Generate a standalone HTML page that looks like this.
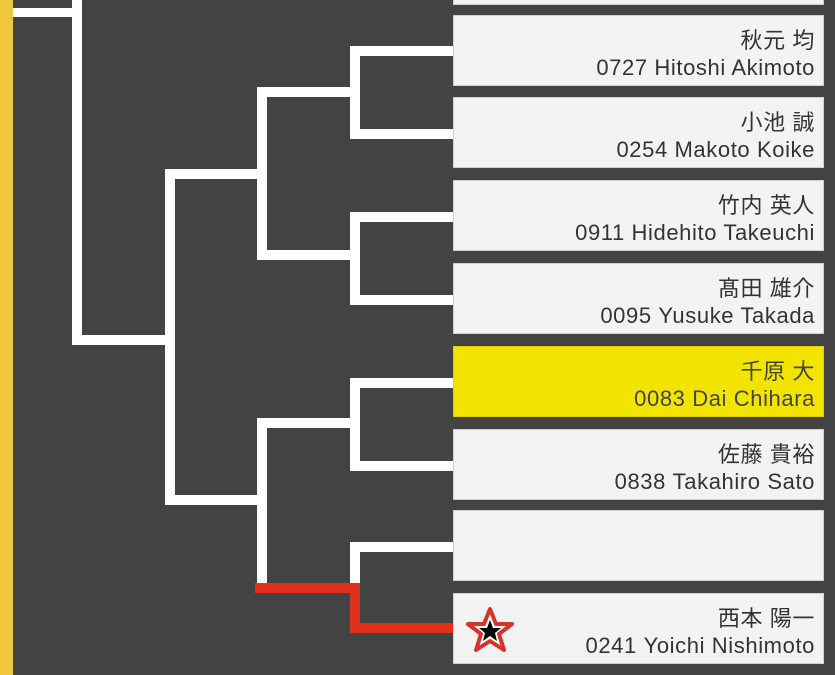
<!DOCTYPE html>
<html><head><meta charset="utf-8"><style>
body{margin:0;width:835px;height:675px;background:#434343;position:relative;overflow:hidden;font-family:"Liberation Sans","Noto Sans CJK JP",sans-serif}
.l{position:absolute;background:#fff}
.r{position:absolute;background:#e0301e}
.b{position:absolute;left:453px;width:371px;height:71px;background:#f3f3f3;border:1px solid #d0d0d0;box-sizing:border-box}
.b .t{position:absolute;right:8px;top:11px;text-align:right;font-size:22px;letter-spacing:0.6px;line-height:27px;color:#333;white-space:nowrap}
.y{background:#f3e400;border-color:#e0d000}
.y .t{color:#444}
</style></head><body>
<div style="position:absolute;left:0;top:0;width:13px;height:675px;background:#f0c840"></div>
<div class="b" style="top:-66px"></div>
<div class="b" style="top:15px"><div class="t">秋元 均<br>0727 Hitoshi Akimoto</div></div>
<div class="b" style="top:97px"><div class="t">小池 誠<br>0254 Makoto Koike</div></div>
<div class="b" style="top:180px"><div class="t">竹内 英人<br>0911 Hidehito Takeuchi</div></div>
<div class="b" style="top:263px"><div class="t">髙田 雄介<br>0095 Yusuke Takada</div></div>
<div class="b y" style="top:346px"><div class="t">千原 大<br>0083 Dai Chihara</div></div>
<div class="b" style="top:429px"><div class="t">佐藤 貴裕<br>0838 Takahiro Sato</div></div>
<div class="b" style="top:510px"></div>
<div class="b" style="top:593px"><div class="t">西本 陽一<br>0241 Yoichi Nishimoto</div>
<svg style="position:absolute;left:10px;top:12px" width="52" height="50" viewBox="0 0 52 50"><polygon points="26,3 32,18 48,18 35,28 40,44 26,35 12,44 17,28 4,18 20,18" fill="#fff" stroke="#d6332a" stroke-width="4" stroke-linejoin="round"/><polygon points="26,14 29,22 37,22 31,27 33,35 26,30 19,35 21,27 15,22 23,22" fill="#000"/></svg></div>
<div class="l" style="left:13px;top:8px;width:69px;height:9px"></div>
<div class="l" style="left:72px;top:0;width:10px;height:345px"></div>
<div class="l" style="left:72px;top:335px;width:103px;height:10px"></div>
<div class="l" style="left:165px;top:169px;width:10px;height:336px"></div>
<div class="l" style="left:165px;top:169px;width:102px;height:10px"></div>
<div class="l" style="left:165px;top:495px;width:102px;height:10px"></div>
<div class="l" style="left:257px;top:87px;width:10px;height:172px"></div>
<div class="l" style="left:257px;top:87px;width:103px;height:10px"></div>
<div class="l" style="left:257px;top:250px;width:103px;height:10px"></div>
<div class="l" style="left:350px;top:46px;width:10px;height:93px"></div>
<div class="l" style="left:350px;top:46px;width:103px;height:10px"></div>
<div class="l" style="left:350px;top:129px;width:103px;height:10px"></div>
<div class="l" style="left:350px;top:212px;width:10px;height:93px"></div>
<div class="l" style="left:350px;top:212px;width:103px;height:10px"></div>
<div class="l" style="left:350px;top:295px;width:103px;height:10px"></div>
<div class="l" style="left:257px;top:418px;width:10px;height:170px"></div>
<div class="l" style="left:257px;top:418px;width:103px;height:10px"></div>
<div class="l" style="left:350px;top:378px;width:10px;height:93px"></div>
<div class="l" style="left:350px;top:378px;width:103px;height:10px"></div>
<div class="l" style="left:350px;top:461px;width:103px;height:10px"></div>
<div class="l" style="left:350px;top:542px;width:10px;height:45px"></div>
<div class="l" style="left:350px;top:542px;width:103px;height:10px"></div>
<div class="r" style="left:255px;top:583px;width:105px;height:10px"></div>
<div class="r" style="left:350px;top:583px;width:10px;height:50px"></div>
<div class="r" style="left:350px;top:623px;width:103px;height:10px"></div>
</body></html>
